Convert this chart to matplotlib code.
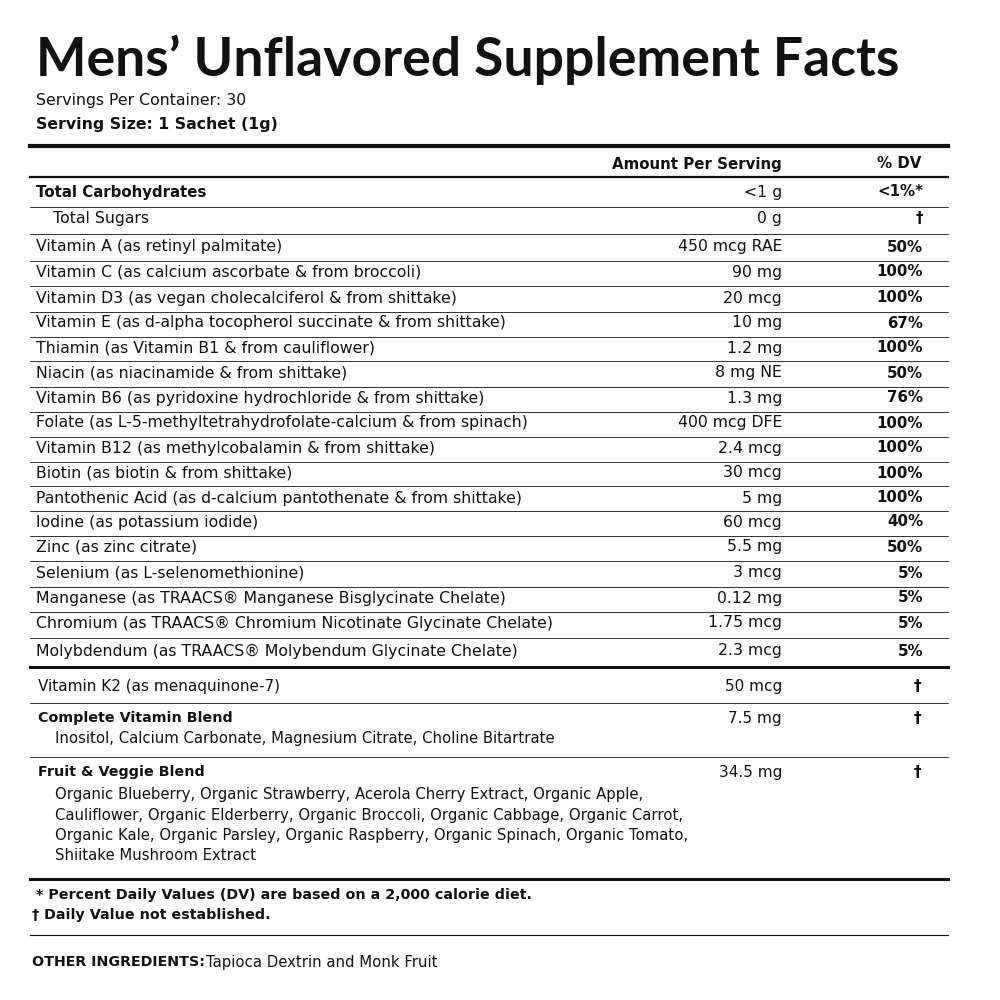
import matplotlib
matplotlib.use("Agg")
import matplotlib.pyplot as plt

plt.rcParams['font.family'] = ['DejaVu Sans']

title = "Mens’ Unflavored Supplement Facts"
servings = "Servings Per Container: 30"
serving_size = "Serving Size: 1 Sachet (1g)"

names = ["Total Carbohydrates", "Total Sugars", "Vitamin A (as retinyl palmitate)",
         "Vitamin C (as calcium ascorbate & from broccoli)",
         "Vitamin D3 (as vegan cholecalciferol & from shittake)",
         "Vitamin E (as d-alpha tocopherol succinate & from shittake)",
         "Thiamin (as Vitamin B1 & from cauliflower)",
         "Niacin (as niacinamide & from shittake)",
         "Vitamin B6 (as pyridoxine hydrochloride & from shittake)",
         "Folate (as L-5-methyltetrahydrofolate-calcium & from spinach)",
         "Vitamin B12 (as methylcobalamin & from shittake)",
         "Biotin (as biotin & from shittake)",
         "Pantothenic Acid (as d-calcium pantothenate & from shittake)",
         "Iodine (as potassium iodide)", "Zinc (as zinc citrate)",
         "Selenium (as L-selenomethionine)",
         "Manganese (as TRAACS® Manganese Bisglycinate Chelate)",
         "Chromium (as TRAACS® Chromium Nicotinate Glycinate Chelate)",
         "Molybdendum (as TRAACS® Molybendum Glycinate Chelate)"]
amounts = ["<1 g", "0 g", "450 mcg RAE", "90 mg", "20 mcg", "10 mg", "1.2 mg", "8 mg NE",
           "1.3 mg", "400 mcg DFE", "2.4 mcg", "30 mcg", "5 mg", "60 mcg", "5.5 mg",
           "3 mcg", "0.12 mg", "1.75 mcg", "2.3 mcg"]
dvs = ["<1%*", "†", "50%", "100%", "100%", "67%", "100%", "50%", "76%", "100%", "100%",
       "100%", "100%", "40%", "50%", "5%", "5%", "5%", "5%"]
row_y = [192, 219, 247, 272, 298, 323, 348, 373, 398, 423, 448, 473, 498, 522, 547,
         573, 598, 623, 651]

blend_names = ["Vitamin K2 (as menaquinone-7)", "Complete Vitamin Blend", "Fruit & Veggie Blend"]
blend_amounts = ["50 mcg", "7.5 mg", "34.5 mg"]
blend_dvs = ["†", "†", "†"]
blend_subs = [[], ["Inositol, Calcium Carbonate, Magnesium Citrate, Choline Bitartrate"],
              ["Organic Blueberry, Organic Strawberry, Acerola Cherry Extract, Organic Apple,",
               "Cauliflower, Organic Elderberry, Organic Broccoli, Organic Cabbage, Organic Carrot,",
               "Organic Kale, Organic Parsley, Organic Raspberry, Organic Spinach, Organic Tomato,",
               "Shiitake Mushroom Extract"]]
blend_y = [686, 718, 772]

footnotes = ["* Percent Daily Values (DV) are based on a 2,000 calorie diet.",
             "† Daily Value not established."]

fig = plt.figure(figsize=(10, 10), dpi=100)
W = H = 1000.0
def X(x): return x / W
def Y(y): return 1 - y / H
def txt(x, y, s, size=11.3, bold=False, ha='left', family=None):
    fig.text(X(x), Y(y), s, fontsize=size, fontweight='bold' if bold else 'normal',
             ha=ha, va='center', color='#111111', family=family or 'DejaVu Sans')
def hline(y, lw, x0=30, x1=948):
    fig.add_artist(plt.Line2D([X(x0), X(x1)], [Y(y), Y(y)], lw=lw, color='#111111'))

txt(36, 60, title, size=38.5, bold=True, family='Lato')
txt(36, 101, servings, 11.3)
txt(36, 125, serving_size, 11.3, bold=True)
hline(146, 3)
txt(782, 164, "Amount Per Serving", 10.8, True, 'right')
txt(921, 164, "% DV", 10.8, True, 'right')
hline(177, 1.6)

for i, (n, a, d, y) in enumerate(zip(names, amounts, dvs, row_y)):
    txt(36 if i != 1 else 53, y, n, 11.3 if i else 10.8, bold=(i == 0))
    txt(782, y, a, 11.3, ha='right')
    txt(923, y, d, 10.8, bold=True, ha='right')
    if i < len(names) - 1:
        hline((y + row_y[i + 1]) / 2 + 1, 0.6)
hline(667, 2.2)

seps = [703, 757]
for i, (n, a, d, y, subs) in enumerate(zip(blend_names, blend_amounts, blend_dvs, blend_y, blend_subs)):
    txt(38, y, n, 11 if i == 0 else 10.3, bold=(i > 0))
    txt(782, y, a, 11, ha='right')
    txt(921, y, d, 11, bold=True, ha='right')
    for j, s in enumerate(subs):
        txt(55, y + 20 + j * 20.5 if i == 1 else y + 23 + j * 20.3, s, 10.7)
    if i < 2:
        hline(seps[i], 0.6)
hline(879, 2.2)

txt(36, 895, footnotes[0], 10.3, True)
txt(32, 915, footnotes[1], 10.3, True)
hline(935, 0.8)
txt(32, 962, "OTHER INGREDIENTS:", 10.3, True)
txt(206, 962, "Tapioca Dextrin and Monk Fruit", 10.7)

fig.savefig("out.png", dpi=100, facecolor='white')
